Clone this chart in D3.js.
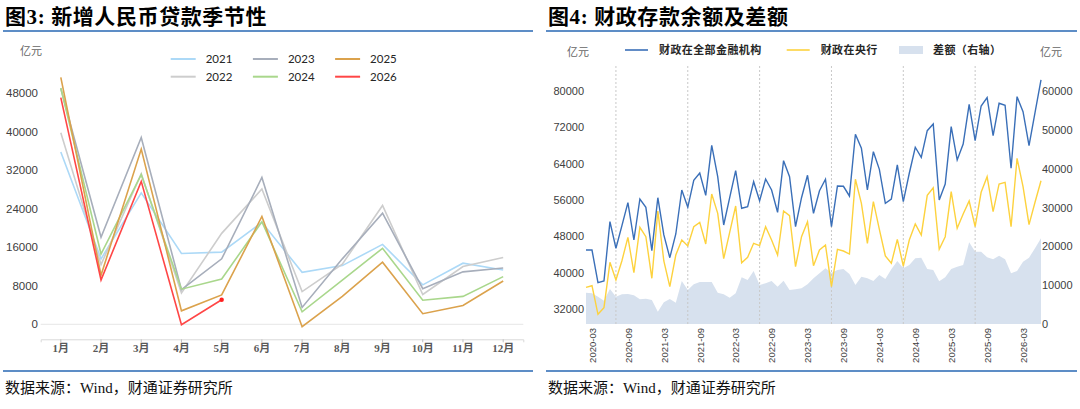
<!DOCTYPE html>
<html>
<head>
<meta charset="utf-8">
<script src="https://cdn.jsdelivr.net/npm/d3@7"></script>
<style>
body { margin: 0; background: #fff; }
svg { display: block; }
text { font-family: "Liberation Sans", Arial, sans-serif; }
</style>
</head>
<body>
<script>
var width = 1080,
    height = 409;

// ---- 图3 data (亿元) ----
var months = ["1月", "2月", "3月", "4月", "5月", "6月", "7月", "8月", "9月", "10月", "11月", "12月"];
var years = ["2021", "2022", "2023", "2024", "2025", "2026"];
var loans2021 = [35800, 13600, 27300, 14700, 15000, 21200, 10800, 12200, 16600, 8200, 12700, 11300];
var loans2022 = [39800, 12400, 31300, 6500, 18900, 28100, 6800, 12500, 24700, 6200, 12000, 13900];
var loans2023 = [49000, 18100, 38800, 7200, 13600, 30500, 3500, 13600, 23100, 7400, 10900, 11700];
var loans2024 = [49100, 14600, 31100, 7300, 9400, 21300, 2600, 9200, 15800, 5000, 5800, 9900];
var loans2025 = [51300, 10200, 36400, 2800, 6100, 22400, -500, 5800, 12900, 2200, 3900, 9000];
var loans2026 = [47100, 9200, 29700, -100, 5100];
var leftTicks = [0, 8000, 16000, 24000, 32000, 40000, 48000];

// ---- 图4 data (亿元) ----
var fiscalTotal = [45020, 45020, 37840, 38220, 51240, 45400, 50360, 55410, 47220, 56220, 54400, 44870,
  56500, 48320, 43330, 48540, 58200, 54400, 60330, 61930, 57030, 68010, 61120, 50510,
  56500, 62440, 54180, 54530, 60020, 55850, 60610, 58200, 53300, 64630, 61120, 50140,
  56500, 61430, 53080, 58040, 60550, 50140, 59080, 59010, 56880, 70430, 67360, 58200,
  66610, 62740, 55280, 56220, 63690, 55630, 61870, 67580, 65380, 71220, 72690, 56000,
  59520, 72100, 64790, 68300, 77020, 69020, 76640, 78470, 70120, 77240, 76800, 62960,
  78690, 75390, 67930, 75170, 82350];
var fiscalPboc = [36830, 37180, 30900, 32350, 42320, 38430, 42670, 47810, 40040, 50010, 47940, 38810,
  53590, 42610, 36960, 43920, 47220, 45900, 50140, 51100, 46340, 57320, 53080, 43110,
  48910, 54680, 42230, 43420, 46490, 45970, 50140, 47220, 43920, 53590, 52550, 41350,
  47940, 51240, 41570, 45020, 46120, 36960, 45180, 44800, 44140, 60550, 55280, 46490,
  55630, 49570, 43700, 42100, 47370, 41510, 47220, 50730, 48320, 57030, 58700, 45180,
  47940, 57820, 49790, 52930, 55780, 50140, 57690, 61120, 53430, 59520, 59890, 50140,
  65160, 58920, 50580, 55500, 60240];
var fiscalGap = [8060, 7900, 7030, 6000, 9010, 7030, 7650, 7730, 7390, 6360, 6520, 6180,
  3170, 5590, 6440, 5490, 11070, 8760, 10220, 10820, 10820, 10820, 8060, 7650,
  6780, 7900, 12020, 11330, 13650, 10040, 10470, 11070, 9610, 11160, 8760, 8930,
  9190, 10220, 11760, 13050, 14330, 13220, 13910, 14160, 12880, 10040, 12190, 11760,
  11070, 12620, 11590, 14080, 16220, 14330, 15190, 16910, 17080, 14160, 13910, 10990,
  12020, 14160, 14760, 15190, 21030, 18630, 18630, 17170, 16650, 17600, 16650, 13050,
  13650, 16050, 17080, 19490, 22060];
var fiscalMonths = d3.timeMonths(new Date(2020, 1, 1), new Date(2026, 6, 1)).map(d3.timeFormat("%Y-%m"));
var fiscalLabels = ["2020-03", "2020-09", "2021-03", "2021-09", "2022-03", "2022-09", "2023-03",
  "2023-09", "2024-03", "2024-09", "2025-03", "2025-09", "2026-03"];
var fiscalGrid = ["2020-07", "2021-07", "2022-07", "2023-07", "2024-07", "2025-07"];
var fiscalLeftTicks = [32000, 40000, 48000, 56000, 64000, 72000, 80000];
var fiscalRightTicks = [0, 10000, 20000, 30000, 40000, 50000, 60000];

var svg = d3.select("body").append("svg")
    .attr("width", width)
    .attr("height", height);

svg.append("rect").attr("width", width).attr("height", height).attr("fill", "#fff");

// titles, rules and source lines for both panels
function panelFrame(x0, x1, title) {
  svg.append("text")
      .attr("x", x0 + 2).attr("y", 24)
      .style("font-family", "'Liberation Serif', 'Noto Sans CJK SC', serif")
      .style("font-weight", "bold")
      .style("font-size", "21px")
      .style("letter-spacing", "0.6px")
      .attr("fill", "#000")
      .text(title);
  svg.append("line")
      .attr("x1", x0).attr("x2", x1).attr("y1", 31).attr("y2", 31)
      .attr("stroke", "#2767b3").attr("stroke-width", 1.6);
  svg.append("line")
      .attr("x1", x0).attr("x2", x1).attr("y1", 371).attr("y2", 371)
      .attr("stroke", "#2767b3").attr("stroke-width", 1.6);
  svg.append("text")
      .attr("x", x0 + 2).attr("y", 393)
      .style("font-family", "'Liberation Serif', 'Noto Sans CJK SC', serif")
      .style("font-size", "15px")
      .attr("fill", "#111")
      .text("数据来源：Wind，财通证券研究所");
}

panelFrame(3, 533, "图3: 新增人民币贷款季节性");
panelFrame(546, 1077, "图4: 财政存款余额及差额");

// ================= 图3 =================
var xL = d3.scaleBand().domain(months).range([40.7, 523.3]);
var yL = d3.scaleLinear().domain([0, 48000]).range([324.3, 93.3]);

var yearColors = d3.scaleOrdinal()
    .domain(years)
    .range(["#acd9f7", "#cdcdcd", "#a7aebb", "#a9d78c", "#dba24c", "#ff4646"]);
var yearSeries = [loans2021, loans2022, loans2023, loans2024, loans2025, loans2026];

var gL = svg.append("g");

gL.append("line")
    .attr("x1", xL.range()[0]).attr("x2", xL.range()[1])
    .attr("y1", yL(0)).attr("y2", yL(0))
    .attr("stroke", "#e6e6e6");

var axL = gL.append("g")
    .attr("transform", "translate(41,0)")
    .call(d3.axisLeft(yL).tickValues(leftTicks).tickSize(0).tickPadding(3).tickFormat(d3.format("d")));
axL.select(".domain").remove();
axL.selectAll("text").style("font-size", "11.5px").attr("fill", "#404040");

var axB = gL.append("g")
    .attr("transform", "translate(0,339.3)")
    .call(d3.axisBottom(xL).tickSize(3).tickPadding(2));
axB.select(".domain").attr("stroke", "#d9d9d9");
axB.selectAll(".tick line").attr("stroke", "#bfbfbf");
axB.selectAll("text")
    .style("font-family", "'Liberation Serif', 'Noto Sans CJK SC', serif")
    .style("font-weight", "bold")
    .style("font-size", "11px")
    .attr("fill", "#595959");

gL.append("text")
    .attr("x", 20).attr("y", 55)
    .style("font-family", "'Noto Sans CJK SC', sans-serif")
    .style("font-size", "11px")
    .attr("fill", "#666")
    .text("亿元");

var lineL = d3.line()
    .x(function(d, i) { return xL(months[i]) + xL.bandwidth() / 2; })
    .y(function(d) { return yL(d); });

yearSeries.forEach(function(s, k) {
  gL.append("path")
      .datum(s)
      .attr("fill", "none")
      .attr("stroke", yearColors(years[k]))
      .attr("stroke-width", 1.6)
      .attr("stroke-linejoin", "miter")
      .attr("d", lineL);
});

var last = loans2026.length - 1;
gL.append("circle")
    .attr("cx", xL(months[last]) + xL.bandwidth() / 2)
    .attr("cy", yL(loans2026[last]))
    .attr("r", 2.2)
    .attr("fill", "#ff2020");

// legend, three columns by two rows
var legL = gL.selectAll(".legL").data(years).enter().append("g")
    .attr("class", "legL")
    .attr("transform", function(d, i) {
      return "translate(" + (170.7 + Math.floor(i / 2) * 82.2) + "," + (59 + (i % 2) * 17.7) + ")";
    });
legL.append("line")
    .attr("x1", 0).attr("x2", 25).attr("y1", 0).attr("y2", 0)
    .attr("stroke", function(d) { return yearColors(d); })
    .attr("stroke-width", 2);
legL.append("text")
    .attr("x", 35).attr("y", 4)
    .style("font-family", "Lato, sans-serif")
    .style("font-size", "11.5px")
    .attr("fill", "#262626")
    .text(function(d) { return d; });

// ================= 图4 =================
var xR = d3.scalePoint().domain(fiscalMonths).range([586, 1041]);
var yR1 = d3.scaleLinear().domain([32000, 80000]).range([309.3, 90.7]);
var yR2 = d3.scaleLinear().domain([0, 60000]).range([324, 91]);

var gR = svg.append("g");

gR.append("path")
    .datum(fiscalGap)
    .attr("fill", "#d7e1ee")
    .attr("d", d3.area()
      .x(function(d, i) { return xR(fiscalMonths[i]); })
      .y0(yR2(0))
      .y1(function(d) { return yR2(d); }));

gR.selectAll(".grid").data(fiscalGrid).enter().append("line")
    .attr("class", "grid")
    .attr("x1", function(d) { return xR(d); })
    .attr("x2", function(d) { return xR(d); })
    .attr("y1", 66).attr("y2", yR2(0))
    .attr("stroke", "#c8c8c8")
    .attr("stroke-dasharray", "2,2");

gR.append("path")
    .datum(fiscalPboc)
    .attr("fill", "none")
    .attr("stroke", "#fdd23e")
    .attr("stroke-width", 1.4)
    .attr("d", d3.line()
      .x(function(d, i) { return xR(fiscalMonths[i]); })
      .y(function(d) { return yR1(d); }));

gR.append("path")
    .datum(fiscalTotal)
    .attr("fill", "none")
    .attr("stroke", "#3a6fb8")
    .attr("stroke-width", 1.4)
    .attr("d", d3.line()
      .x(function(d, i) { return xR(fiscalMonths[i]); })
      .y(function(d) { return yR1(d); }));

var axR1 = gR.append("g")
    .attr("transform", "translate(587,0)")
    .call(d3.axisLeft(yR1).tickValues(fiscalLeftTicks).tickSize(0).tickPadding(3).tickFormat(d3.format("d")));
axR1.select(".domain").remove();
axR1.selectAll("text").style("font-size", "11px").attr("fill", "#404040");

var axR2 = gR.append("g")
    .attr("transform", "translate(1040,0)")
    .call(d3.axisRight(yR2).tickValues(fiscalRightTicks).tickSize(0).tickPadding(2).tickFormat(d3.format("d")));
axR2.select(".domain").remove();
axR2.selectAll("text").style("font-size", "11px").attr("fill", "#404040");

var axRB = gR.append("g")
    .attr("transform", "translate(0,324)")
    .call(d3.axisBottom(xR).tickValues(fiscalLabels).tickSize(0));
axRB.select(".domain").remove();
axRB.selectAll("text")
    .attr("transform", "rotate(-90)")
    .attr("x", -4).attr("y", 0).attr("dy", "0.35em")
    .attr("text-anchor", "end")
    .style("font-size", "9.5px")
    .attr("fill", "#404040");

gR.append("text")
    .attr("x", 567).attr("y", 56)
    .style("font-family", "'Noto Sans CJK SC', sans-serif")
    .style("font-size", "11px")
    .attr("fill", "#666")
    .text("亿元");
gR.append("text")
    .attr("x", 1040).attr("y", 56)
    .style("font-family", "'Noto Sans CJK SC', sans-serif")
    .style("font-size", "11px")
    .attr("fill", "#666")
    .text("亿元");

// legend
var legR = [
  { name: "财政在全部金融机构", kind: "line", color: "#3a6fb8", x: 625 },
  { name: "财政在央行", kind: "line", color: "#fdd23e", x: 786.7 },
  { name: "差额（右轴）", kind: "area", color: "#d7e1ee", x: 899 }
];
var legRg = gR.selectAll(".legR").data(legR).enter().append("g")
    .attr("class", "legR")
    .attr("transform", function(d) { return "translate(" + d.x + ",50)"; });
legRg.each(function(d) {
  var g = d3.select(this);
  if (d.kind === "line") {
    g.append("line").attr("x1", 0).attr("x2", 23).attr("y1", 0).attr("y2", 0)
        .attr("stroke", d.color).attr("stroke-width", 1.6);
  } else {
    g.append("rect").attr("x", 0).attr("y", -4).attr("width", 24).attr("height", 8)
        .attr("fill", d.color);
  }
});
legRg.append("text")
    .attr("x", 34)
    .attr("y", 4)
    .style("font-family", "'Noto Sans CJK SC', sans-serif")
    .style("font-weight", "bold")
    .style("font-size", "11px")
    .style("letter-spacing", "0.4px")
    .attr("fill", "#262626")
    .text(function(d) { return d.name; });
</script>
</body>
</html>
